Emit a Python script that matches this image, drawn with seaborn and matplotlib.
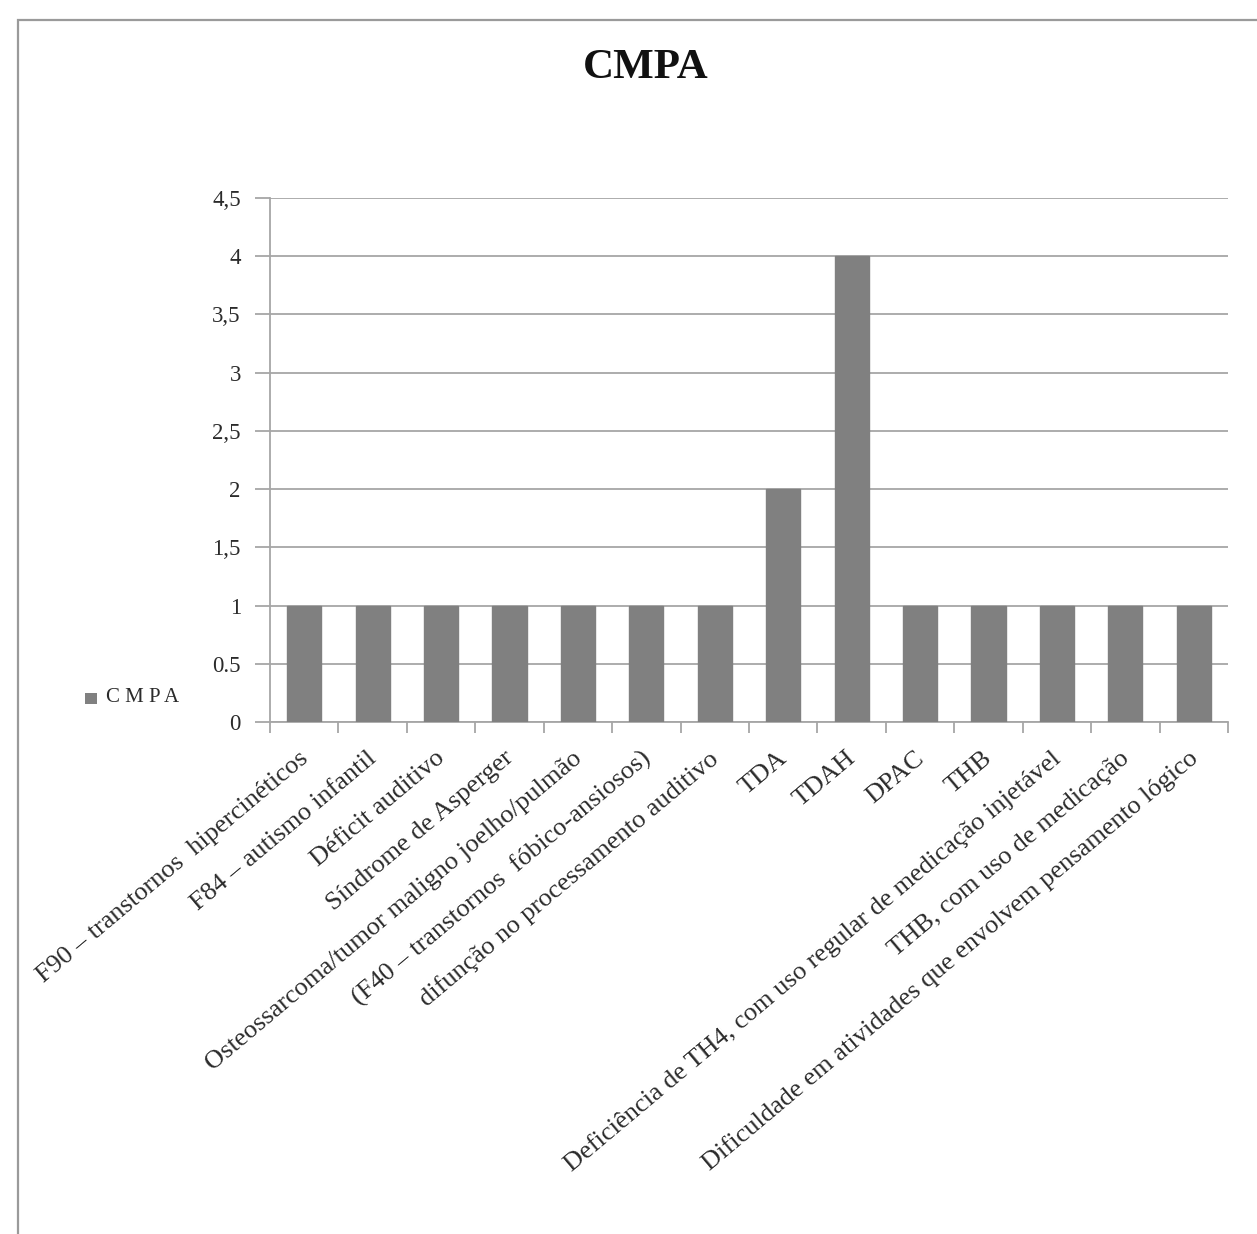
import matplotlib
matplotlib.use("Agg")
import matplotlib.pyplot as plt
from matplotlib.patches import Rectangle
from matplotlib.transforms import ScaledTranslation
import seaborn as sns
import pandas as pd

categories = [
    "F90 – transtornos  hipercinéticos",
    "F84 – autismo infantil",
    "Déficit auditivo",
    "Síndrome de Asperger",
    "Osteossarcoma/tumor maligno joelho/pulmão",
    "(F40 – transtornos  fóbico-ansiosos)",
    "difunção no processamento auditivo",
    "TDA",
    "TDAH",
    "DPAC",
    "THB",
    "Deficiência de TH4, com uso regular de medicação injetável",
    "THB, com uso de medicação",
    "Dificuldade em atividades que envolvem pensamento lógico",
]
values = [1, 1, 1, 1, 1, 1, 1, 2, 4, 1, 1, 1, 1, 1]
series_name = "CMPA"
ytick_values = [0, 0.5, 1, 1.5, 2, 2.5, 3, 3.5, 4, 4.5]
ytick_labels = ["0", "0.5", "1", "1,5", "2", "2,5", "3", "3,5", "4", "4,5"]

sns.set_theme(style="white")
plt.rcParams["font.family"] = ["Liberation Serif", "DejaVu Serif"]

df = pd.DataFrame({"categoria": categories, "valor": values})

fig = plt.figure(figsize=(12.57, 12.34), dpi=100)
fig.patch.set_facecolor("white")

# outer chart frame
fig.patches.append(Rectangle((18 / 1257, -0.05), 1.2, 1 - 20 / 1234 + 0.05,
                             transform=fig.transFigure, fill=False,
                             edgecolor="#9a9a9a", linewidth=1.6, zorder=0))

ax = fig.add_axes([270 / 1257, 1 - 722 / 1234, (1228 - 270) / 1257, (722 - 198) / 1234])

grid_color = "#a6a6a6"
bar_color = "#808080"
text_color = "#2b2b2b"

sns.barplot(data=df, x="categoria", y="valor", color=bar_color, width=0.5,
            saturation=1, ax=ax, zorder=3, edgecolor=bar_color)

ax.set_xlim(-0.5, len(categories) - 0.5)
ax.set_ylim(0, 4.5)
ax.set_yticks(ytick_values)
ax.set_yticklabels(ytick_labels, fontsize=16.5, color=text_color)
ax.yaxis.grid(True, color=grid_color, linewidth=1.3, zorder=0)
ax.set_axisbelow(True)

for side in ["top", "right"]:
    ax.spines[side].set_visible(False)
for side in ["left", "bottom"]:
    ax.spines[side].set_color(grid_color)
    ax.spines[side].set_linewidth(1.3)

ax.tick_params(axis="y", which="major", direction="out", length=11, width=1.3,
               color=grid_color, left=True, pad=10)

# category tick marks sit between bars; labels sit at the bar centres
ax.set_xticks(range(len(categories)))
ax.set_xticklabels(categories, rotation=40, ha="right", rotation_mode="anchor",
                   fontsize=19, color=text_color)
ax.tick_params(axis="x", which="major", length=0, pad=18)
shift = ScaledTranslation(-6 / 100, 0, fig.dpi_scale_trans)
for lbl in ax.get_xticklabels():
    lbl.set_transform(lbl.get_transform() + shift)
ax.set_xticks([i - 0.5 for i in range(len(categories) + 1)], minor=True)
ax.tick_params(axis="x", which="minor", direction="out", length=8, width=1.3,
               color=grid_color, bottom=True)

ax.set_xlabel("")
ax.set_ylabel("")

fig.text(646 / 1257, 1 - 68 / 1234, "CMPA", ha="center", va="center",
         fontsize=31, fontweight="bold", color="#111111")

# legend entry
fig.patches.append(Rectangle((85 / 1257, 1 - 704 / 1234), 12 / 1257, 11 / 1234,
                             transform=fig.transFigure, facecolor=bar_color,
                             edgecolor="none"))
fig.text(106 / 1257, 1 - 698 / 1234, "C M P A", ha="left", va="center",
         fontsize=15, color=text_color)

fig.savefig("out.png", dpi=100, facecolor="white")
